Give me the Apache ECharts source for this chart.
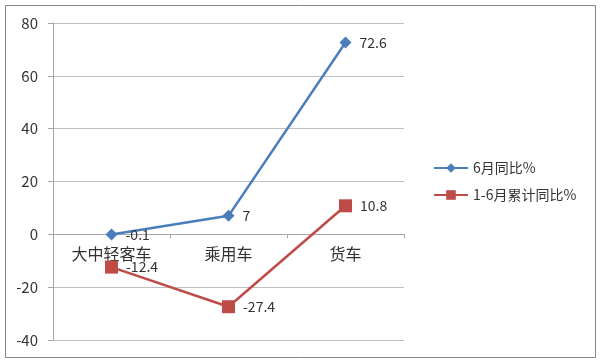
<!DOCTYPE html>
<html><head><meta charset="utf-8">
<script src="https://cdn.jsdelivr.net/npm/echarts@6/dist/echarts.min.js"></script>
<style>html,body{margin:0;padding:0;background:#fff}#c{width:600px;height:363px}</style>
</head><body><div id="c"></div>
<script>
const categories = ['大中轻客车', '乘用车', '货车'];
const seriesNames = ['6月同比%', '1-6月累计同比%'];
const june = [-0.1, 7, 72.6];
const cumulative = [-12.4, -27.4, 10.8];
const yTicks = [-40, -20, 0, 20, 40, 60, 80];

const font = '"Noto Sans CJK SC", "Microsoft YaHei", sans-serif';
const chart = echarts.init(document.getElementById('c'), null, {renderer: 'canvas'});
chart.setOption({
  animation: false,
  backgroundColor: '#fff',
  graphic: [{type: 'rect', shape: {x: 5.5, y: 5.5, width: 590, height: 352}, style: {fill: 'none', stroke: '#868686', lineWidth: 1}, silent: true}],
  grid: {left: 53, right: 196, top: 23, bottom: 23, containLabel: false},
  legend: {
    orient: 'vertical', left: 428, top: 156, itemGap: 13,
    itemWidth: 34, itemHeight: 12,
    textStyle: {fontFamily: font, fontSize: 14, color: '#333'},
    data: seriesNames
  },
  xAxis: {
    type: 'category', data: categories, boundaryGap: true,
    position: 'bottom', offset: -105.67,
    axisLine: {onZero: false, lineStyle: {color: '#a6a6a6'}},
    axisTick: {show: true, alignWithLabel: false, inside: false, length: 4, lineStyle: {color: '#a6a6a6'}},
    axisLabel: {fontFamily: font, fontSize: 16, color: '#333', margin: 12},
    splitLine: {show: false}
  },
  yAxis: {
    type: 'value', min: yTicks[0], max: yTicks[yTicks.length - 1], interval: 20,
    axisLine: {show: true, lineStyle: {color: '#a6a6a6'}},
    axisTick: {show: true, length: 5, lineStyle: {color: '#a6a6a6'}},
    axisLabel: {fontFamily: font, fontSize: 15, color: '#333', margin: 15},
    splitLine: {lineStyle: {color: '#bfbfbf'}}
  },
  series: [
    {
      name: seriesNames[0], type: 'line', data: june,
      symbol: 'diamond', symbolSize: 12,
      lineStyle: {color: '#4a7ebb', width: 2.5},
      itemStyle: {color: '#4a7ebb'},
      label: {show: true, position: 'right', distance: 8, fontFamily: font, fontSize: 14, color: '#333'}
    },
    {
      name: seriesNames[1], type: 'line', data: cumulative,
      symbol: 'rect', symbolSize: 13,
      lineStyle: {color: '#be4b48', width: 2.5},
      itemStyle: {color: '#be4b48'},
      label: {show: true, position: 'right', distance: 8, fontFamily: font, fontSize: 14, color: '#333'}
    }
  ]
});
</script></body></html>
